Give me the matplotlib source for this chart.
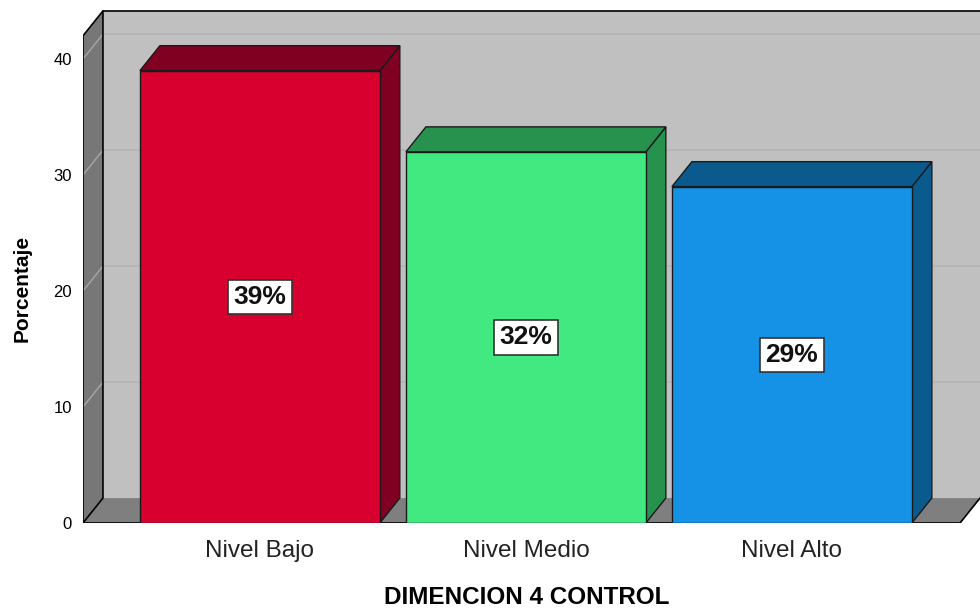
import matplotlib.pyplot as plt
from matplotlib.patches import Polygon

plt.rcParams['font.family'] = ['Liberation Sans', 'DejaVu Sans']

# Datos
categorias = ['Nivel Bajo', 'Nivel Medio', 'Nivel Alto']
porcentajes = [39, 32, 29]
etiquetas = ['39%', '32%', '29%']
colores_frente = ['#d7002f', '#42e981', '#1591e6']
colores_lado = ['#7f0020', '#27924d', '#0b5a8e']
yticks = [0, 10, 20, 30, 40]

# Geometría de la caja 3D (unidades de datos)
x0, xR = -0.665, 2.632      # borde frontal izquierdo / derecho
dx, dy = 0.075, 2.15        # desplazamiento de profundidad
ytop = 42.0                 # altura de la pared en el plano frontal
ancho = 0.902

fig = plt.figure(figsize=(9.8, 6.1), dpi=100)
ax = fig.add_axes([83 / 980, 87 / 610, 897 / 980, 512.7 / 610])
ax.set_xlim(x0, 2.707)
ax.set_ylim(0, 44.2)
for s in ax.spines.values():
    s.set_visible(False)


def poly(pts, fc, ec='none', lw=0, z=1):
    ax.add_patch(Polygon(pts, closed=True, facecolor=fc, edgecolor=ec,
                         linewidth=lw, zorder=z, joinstyle='miter'))


# Pared del fondo
poly([(x0 + dx, dy), (3.0, dy), (3.0, ytop + dy), (x0 + dx, ytop + dy)], '#c0c0c0', z=1)
for v in yticks[1:]:
    ax.plot([x0 + dx, 3.0], [v + dy, v + dy], color='#b3b3b3', lw=1.2, zorder=2)
ax.plot([x0 + dx, 3.0], [ytop + dy, ytop + dy], color='black', lw=1.2, zorder=6)

# Pared izquierda
poly([(x0, 0), (x0 + dx, dy), (x0 + dx, ytop + dy), (x0, ytop)], '#777777', z=3)
for v in yticks[1:]:
    ax.plot([x0, x0 + dx], [v, v + dy], color='#a8a8a8', lw=1, zorder=4)
poly([(x0, 0), (x0 + dx, dy), (x0 + dx, ytop + dy), (x0, ytop)], 'none', ec='black', lw=1.2, z=6)

# Piso
poly([(x0, 0), (xR, 0), (xR + dx, dy), (x0 + dx, dy)], '#7f7f7f', z=3)
ax.plot([x0, xR, xR + dx], [0, 0, dy], color='black', lw=1.2, zorder=6)

# Barras 3D
for i, (v, cf, cl) in enumerate(zip(porcentajes, colores_frente, colores_lado)):
    a, b = i - ancho / 2, i + ancho / 2
    poly([(b, 0), (b + dx, dy), (b + dx, v + dy), (b, v)], cl, ec='#1a1a1a', lw=1, z=7)
    poly([(a, v), (b, v), (b + dx, v + dy), (a + dx, v + dy)], cl, ec='#1a1a1a', lw=1, z=7)
    poly([(a, 0), (b, 0), (b, v), (a, v)], cf, ec='#1a1a1a', lw=1, z=8)
    ax.text(i, v / 2, etiquetas[i], ha='center', va='center', fontsize=19,
            fontweight='bold', color='#111111', zorder=10,
            bbox=dict(boxstyle='square,pad=0.2', facecolor='white',
                      edgecolor='#333333', linewidth=1.2))

# Ejes
ax.set_yticks(yticks)
ax.set_yticklabels([str(t) for t in yticks], fontsize=12)
ax.set_xticks(range(len(categorias)))
ax.set_xticklabels(categorias, fontsize=17.5, color='#222222')
ax.tick_params(axis='y', length=0, pad=8)
ax.tick_params(axis='x', length=0, pad=12)

fig.text(22 / 980, 1 - 288 / 610, 'Porcentaje', rotation=90, ha='center',
         va='center', fontsize=15, fontweight='bold')
fig.text(527 / 980, 1 - 598 / 610, 'DIMENCION 4 CONTROL', ha='center',
         va='center', fontsize=17.5, fontweight='bold')

fig.savefig('out.png', dpi=100)
